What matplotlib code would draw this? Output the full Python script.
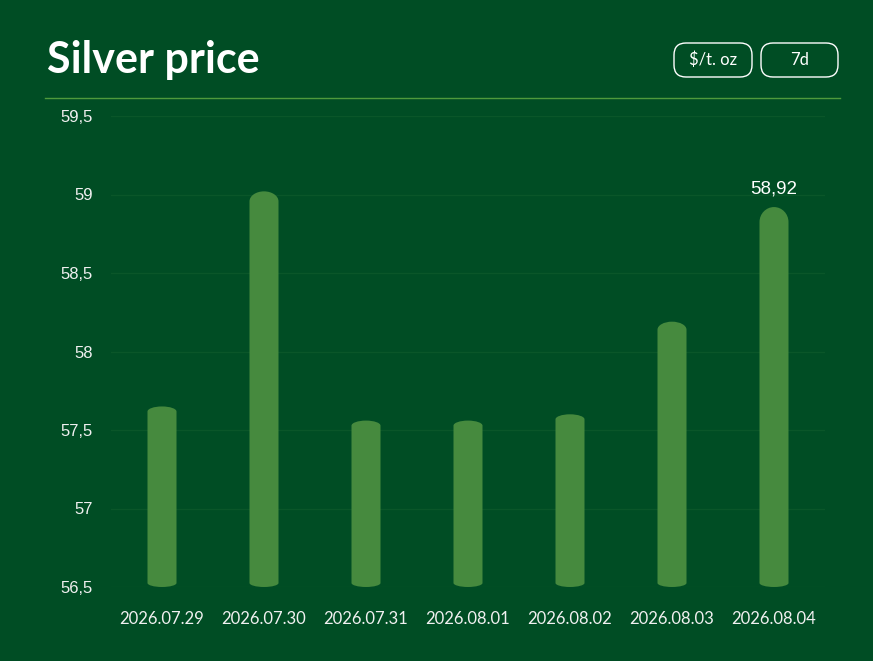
import matplotlib
matplotlib.use("Agg")
import matplotlib.pyplot as plt
from matplotlib.patches import FancyBboxPatch, PathPatch
from matplotlib.path import Path

dates = ["2026.07.29", "2026.07.30", "2026.07.31", "2026.08.01",
         "2026.08.02", "2026.08.03", "2026.08.04"]
prices = [57.65, 59.02, 57.56, 57.56, 57.60, 58.19, 58.92]
yticks = [56.5, 57, 57.5, 58, 58.5, 59, 59.5]
ytick_labels = ["56,5", "57", "57,5", "58", "58,5", "59", "59,5"]
base = 56.5

bg = "#004d24"
bar_color = "#468a3e"
grid_color = "#0a5629"
text_color = "#f0f0f0"


def rounded_bar(x0, y0, w, h, rx, ry_top, ry_bot):
    # rectangle with elliptical corners, different top and bottom radii
    k = 0.5523
    x1, y1 = x0 + w, y0 + h
    verts = [
        (x0 + rx, y0),
        (x1 - rx, y0),
        (x1 - rx + rx * k, y0), (x1, y0 + ry_bot - ry_bot * k), (x1, y0 + ry_bot),
        (x1, y1 - ry_top),
        (x1, y1 - ry_top + ry_top * k), (x1 - rx + rx * k, y1), (x1 - rx, y1),
        (x0 + rx, y1),
        (x0 + rx - rx * k, y1), (x0, y1 - ry_top + ry_top * k), (x0, y1 - ry_top),
        (x0, y0 + ry_bot),
        (x0, y0 + ry_bot - ry_bot * k), (x0 + rx - rx * k, y0), (x0 + rx, y0),
        (x0 + rx, y0),
    ]
    codes = [Path.MOVETO, Path.LINETO,
             Path.CURVE4, Path.CURVE4, Path.CURVE4,
             Path.LINETO,
             Path.CURVE4, Path.CURVE4, Path.CURVE4,
             Path.LINETO,
             Path.CURVE4, Path.CURVE4, Path.CURVE4,
             Path.LINETO,
             Path.CURVE4, Path.CURVE4, Path.CURVE4,
             Path.CLOSEPOLY]
    return Path(verts, codes)


fig = plt.figure(figsize=(8.73, 6.61), dpi=100)
fig.patch.set_facecolor(bg)
ax = fig.add_axes([111 / 873, 1 - 587 / 661, 714 / 873, 471 / 661])
ax.set_facecolor(bg)
ax.set_xlim(-0.5, len(dates) - 0.5)
ax.set_ylim(56.5, 59.5)

# pixel scale of the axes, used for rounded bar ends
px_x = 714 / 7.0
px_y = 471 / 3.0
bar_w = 29 / px_x

top_round = [5, 10, 5, 5, 5, 8, 15]  # vertical rounding of the bar tops in px
for i, p in enumerate(prices):
    path = rounded_bar(i - bar_w / 2, base, bar_w, p - base,
                       14.5 / px_x, top_round[i] / px_y, 4 / px_y)
    ax.add_patch(PathPatch(path, fc=bar_color, ec="none", zorder=3))

ax.text(6, prices[-1] + 0.06, "58,92", ha="center", va="bottom", color="white",
        fontsize=13.5, family="Liberation Sans", zorder=4)

ax.set_yticks(yticks)
ax.set_yticklabels(ytick_labels, family="Liberation Sans", fontsize=12, color=text_color)
ax.set_xticks(range(len(dates)))
ax.set_xticklabels(dates, family="Lato", fontsize=12, color=text_color)
ax.tick_params(length=0)
ax.tick_params(axis="y", pad=13)
ax.tick_params(axis="x", pad=17)
for lab in ax.get_yticklabels():
    lab.set_horizontalalignment("right")
ax.grid(axis="y", color=grid_color, linewidth=1, zorder=0)
for s in ax.spines.values():
    s.set_visible(False)

# header
fig.text(47 / 873, 1 - 60 / 661, "Silver price", color="white", fontsize=31,
         fontweight="bold", family="Lato", va="center", ha="left")
fig.add_artist(plt.Line2D([45 / 873, 840 / 873], [1 - 98 / 661, 1 - 98 / 661],
                          color="#4f9a3c", linewidth=1))

for x0, x1, label in [(674, 752, "$/t. oz"), (761, 838, "7d")]:
    box = FancyBboxPatch((x0, 661 - 77), x1 - x0, 34,
                         boxstyle="round,pad=0,rounding_size=12",
                         fc="none", ec="white", lw=1, transform=None)
    fig.add_artist(box)
    fig.text((x0 + x1) / 2 / 873, 1 - 60 / 661, label, color="white", fontsize=12,
             family="Lato", ha="center", va="center")

fig.savefig("out.png", dpi=100, facecolor=bg)
